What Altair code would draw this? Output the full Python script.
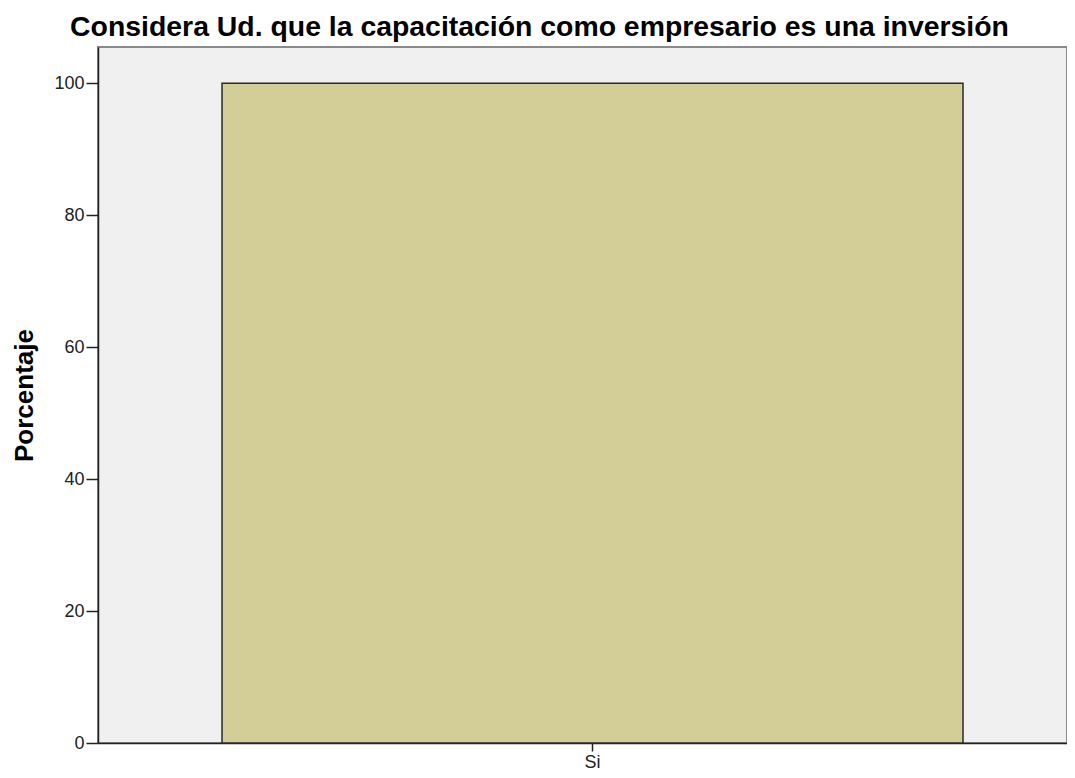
import altair as alt
import pandas as pd

categories = ["Si"]
values = [100]

df = pd.DataFrame({"cat": categories, "pct": values})

FONT = "Liberation Sans"

chart = alt.Chart(df).mark_bar(
    color="#D3CE97", stroke="#2a2a2a", strokeWidth=1.5
).encode(
    x=alt.X("cat:N", title=None,
            scale=alt.Scale(paddingInner=0, paddingOuter=0.15385, align=0.5439),
            axis=alt.Axis(labelAngle=0, labelFontSize=18, labelFont=FONT,
                          labelColor="#222222", tickSize=8, tickColor="#222222",
                          tickWidth=1.5, domainColor="#222222", domainWidth=1.5,
                          labelPadding=2, grid=False)),
    y=alt.Y("pct:Q", title="Porcentaje",
            scale=alt.Scale(domain=[0, 105.5], nice=False, zero=True),
            axis=alt.Axis(values=[0, 20, 40, 60, 80, 100], labelFontSize=18,
                          labelFont=FONT, labelColor="#222222", tickSize=12,
                          tickColor="#222222", tickWidth=1.5, domainColor="#222222",
                          domainWidth=1.5, labelPadding=2, grid=False,
                          titleFont=FONT, titleFontSize=26, titleFontWeight="bold",
                          titleColor="#000000", titlePadding=16)),
).properties(
    width=969,
    height=696,
    background="#FFFFFF",
    autosize=alt.AutoSizeParams(type="none"),
    padding={"left": 90, "top": 39, "right": 0, "bottom": 27},
    title=alt.TitleParams(
        "Considera Ud. que la capacitación como empresario es una inversión",
        font=FONT, fontSize=28.4, fontWeight="bold", color="#000000",
        anchor="middle", frame="bounds", baseline="alphabetic", offset=12, dy=29,
    ),
).configure_view(
    fill="#F0F0F0", stroke="#8a8a8a", strokeWidth=2
)

chart.save("out.html", embed_options={"renderer": "svg", "actions": False})
